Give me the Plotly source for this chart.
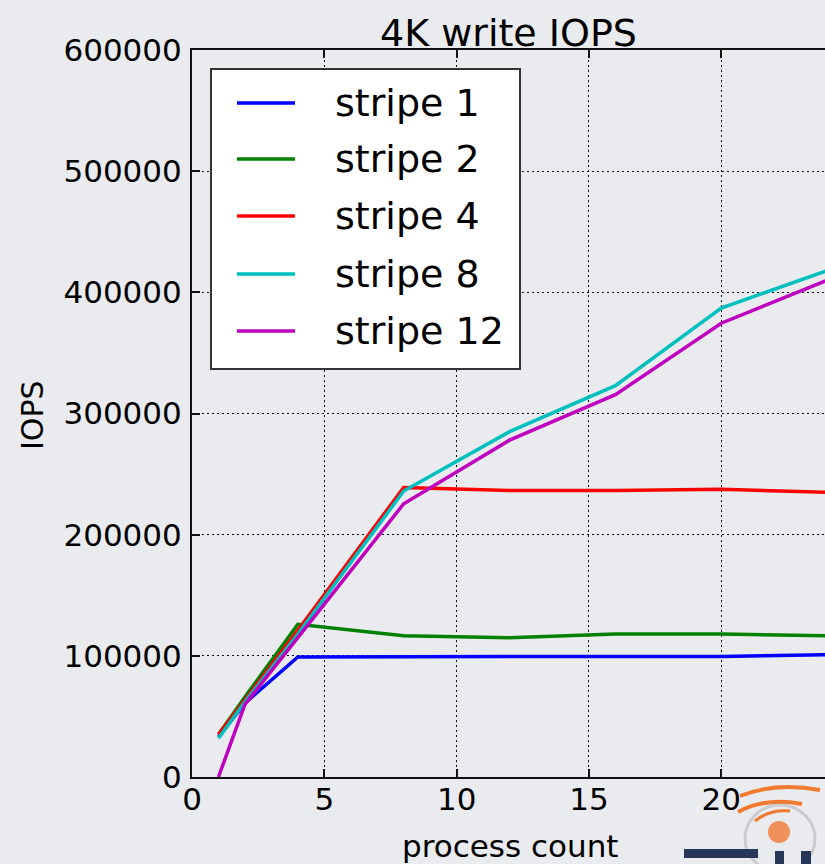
import plotly.graph_objects as go

# Process counts and measured 4K write IOPS for each stripe count
process_count = [1, 2, 4, 8, 12, 16, 20, 24]
stripe_1 = [33000, 61000, 99000, 99500, 99500, 99500, 99500, 101000]
stripe_2 = [35000, 66000, 126000, 116500, 115000, 118000, 118000, 116500]
stripe_4 = [35000, 64000, 121000, 239000, 236500, 236500, 237500, 235000]
stripe_8 = [32000, 62000, 118000, 236000, 285000, 323000, 387000, 418000]
stripe_12 = [0, 60000, 115000, 225500, 278000, 315500, 374500, 410000]

series_names = ["stripe 1", "stripe 2", "stripe 4", "stripe 8", "stripe 12"]
series_values = [stripe_1, stripe_2, stripe_4, stripe_8, stripe_12]
series_colors = ["#0000ff", "#008000", "#ff0000", "#00bfbf", "#bf00bf"]

x_ticks = [0, 5, 10, 15, 20]
y_ticks = [0, 100000, 200000, 300000, 400000, 500000, 600000]

W, H = 825, 864
L, R, T, B = 192, 0, 50, 87
FONT = "DejaVu Sans"
BG = "#e9ebee"

plot_w = W - L - R
plot_h = H - T - B


def px(xpix):
    return (xpix - L) / plot_w


def py(ypix):
    return (H - B - ypix) / plot_h


fig = go.Figure()
for name, vals, col in zip(series_names, series_values, series_colors):
    fig.add_trace(go.Scatter(
        x=process_count, y=vals, mode="lines", name=name,
        line=dict(color=col, width=3.5), showlegend=False,
    ))

axis_common = dict(
    showgrid=True, gridcolor="#111", gridwidth=1, griddash="2px,3px",
    zeroline=False, showline=True, linecolor="#111", linewidth=2,
    ticks="inside", ticklen=8, tickwidth=1.5, tickcolor="#111",
    tickfont=dict(family=FONT, size=31, color="#000"),
)

fig.update_xaxes(
    range=[0, 23.92], tickvals=x_ticks, ticktext=[str(v) for v in x_ticks],
    mirror="ticks", ticklabelstandoff=-6, **axis_common,
)
fig.update_yaxes(
    range=[0, 600000], tickvals=y_ticks, ticktext=[str(v) for v in y_ticks],
    ticklabelstandoff=2, **axis_common,
)

shapes = []
annotations = []

# Legend box drawn in paper space
lx0, lx1, ly0, ly1 = 211, 520, 69, 369
shapes.append(dict(type="rect", xref="paper", yref="paper",
                   x0=px(lx0), x1=px(lx1), y0=py(ly1), y1=py(ly0),
                   fillcolor="white", line=dict(color="#333", width=2),
                   layer="above"))
row_y = [103, 159, 216, 274, 331]
for name, col, ry in zip(series_names, series_colors, row_y):
    shapes.append(dict(type="line", xref="paper", yref="paper",
                       x0=px(237), x1=px(295), y0=py(ry), y1=py(ry),
                       line=dict(color=col, width=3.5), layer="above"))
    annotations.append(dict(xref="paper", yref="paper", x=px(333), y=py(ry),
                            text=name, showarrow=False, xanchor="left",
                            yanchor="middle",
                            font=dict(family=FONT, size=38, color="#000")))

# Axis titles
annotations.append(dict(xref="paper", yref="paper", x=px(510), y=py(846),
                        text="process count", showarrow=False,
                        xanchor="center", yanchor="middle",
                        font=dict(family=FONT, size=31, color="#000")))
annotations.append(dict(xref="paper", yref="paper", x=px(33), y=py(415),
                        text="IOPS", showarrow=False, textangle=-90,
                        xanchor="center", yanchor="middle",
                        font=dict(family=FONT, size=30, color="#000")))

# Emblem in the lower-right corner of the backdrop
shapes.append(dict(type="circle", xref="paper", yref="paper",
                   x0=px(745), x1=px(815), y0=py(872), y1=py(805),
                   line=dict(color="#c9cbce", width=3), fillcolor="rgba(0,0,0,0)"))
shapes.append(dict(type="circle", xref="paper", yref="paper",
                   x0=px(768), x1=px(790), y0=py(843), y1=py(821),
                   line=dict(width=0), fillcolor="#f0905a"))
for (x0, y0, cx, cy, x1, y1, w) in [
        (740, 796, 775, 782, 820, 790, 4),
        (738, 812, 765, 797, 802, 804, 4),
        (755, 821, 770, 809, 790, 811, 3)]:
    shapes.append(dict(type="path", xref="paper", yref="paper",
                       path=f"M {px(x0)},{py(y0)} Q {px(cx)},{py(cy)} {px(x1)},{py(y1)}",
                       line=dict(color="#f07a30", width=w)))
for (x0, y0, x1, y1) in [(684, 849, 758, 858), (775, 851, 784, 864), (801, 851, 811, 864)]:
    shapes.append(dict(type="rect", xref="paper", yref="paper",
                       x0=px(x0), x1=px(x1), y0=py(y1), y1=py(y0),
                       line=dict(width=0), fillcolor="#26375a"))

fig.update_layout(
    width=W, height=H,
    margin=dict(l=L, r=R, t=T, b=B),
    paper_bgcolor=BG, plot_bgcolor="rgba(0,0,0,0)",
    title=dict(text="4K write IOPS", x=0.5, xref="paper", xanchor="center",
               y=1 - 33 / H, yref="container", yanchor="middle",
               font=dict(family=FONT, size=38, color="#000")),
    shapes=shapes, annotations=annotations,
    showlegend=False,
)

fig.write_html("out.html")
